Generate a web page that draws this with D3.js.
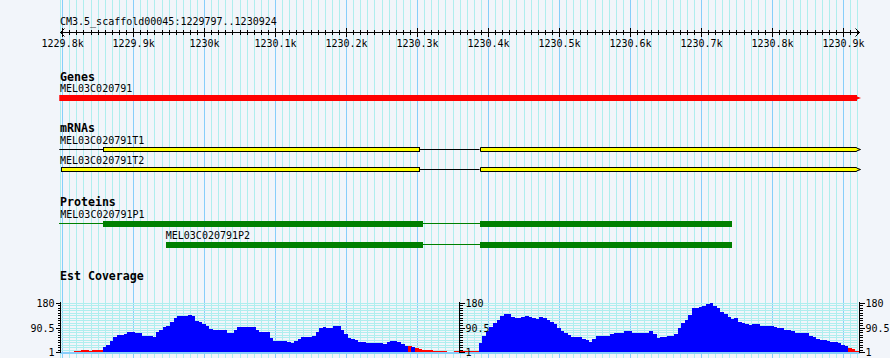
<!DOCTYPE html>
<html>
<head>
<meta charset="utf-8">
<script src="https://cdn.jsdelivr.net/npm/d3@7"></script>
<style>
  body { margin: 0; background: #f2f5fa; }
  svg text { font-family: "DejaVu Sans Mono", monospace; font-size: 10px; fill: #000; }
  svg text.track { font-weight: bold; font-size: 11.6px; }
</style>
</head>
<body>
<div id="chart"></div>
<script>
// region shown
var segmentName = "CM3.5_scaffold00045";
var viewStart = 1229797, viewEnd = 1230924;

// ruler
var majorTicks = [1229800, 1229900, 1230000, 1230100, 1230200, 1230300, 1230400, 1230500, 1230600, 1230700, 1230800, 1230900];
var majorLabels = ["1229.8k", "1229.9k", "1230k", "1230.1k", "1230.2k", "1230.3k", "1230.4k", "1230.5k", "1230.6k", "1230.7k", "1230.8k", "1230.9k"];

var trackNames = ["Genes", "mRNAs", "Proteins", "Est Coverage"];

// gene
var geneName = "MEL03C020791";
var geneSpan = [1229796, 1230924];

// transcripts
var mrnaNames = ["MEL03C020791T1", "MEL03C020791T2"];
var mrnaStarts = [1229796, 1229798];
var mrnaExons = [
  [[1229858, 1230303], [1230388, 1230924]],
  [[1229798, 1230303], [1230388, 1230924]]
];

// proteins
var proteinNames = ["MEL03C020791P1", "MEL03C020791P2"];
var proteinStarts = [1229796, 1229946];
var proteinCds = [
  [[1229858, 1230308], [1230388, 1230744]],
  [[1229946, 1230308], [1230388, 1230744]]
];

// EST coverage, 5 bp bins from viewStart
var coverageBin = 5;
var coverage = [
  0, 0, 0, 0, 5, 5, 8, 8, 6, 9,
  9, 9, 19, 27, 41, 56, 63, 63, 66, 73,
  73, 72, 72, 60, 59, 59, 54, 75, 81, 93,
  96, 112, 124, 132, 134, 134, 136, 134, 114, 110,
  105, 96, 85, 81, 81, 81, 80, 69, 69, 81,
  92, 93, 93, 93, 92, 81, 75, 75, 73, 52,
  41, 41, 41, 41, 39, 34, 41, 48, 55, 55,
  57, 60, 73, 87, 92, 90, 89, 95, 95, 81,
  66, 53, 48, 44, 39, 37, 35, 35, 35, 35,
  33, 31, 39, 41, 41, 36, 30, 24, 23, 20,
  17, 11, 10, 8, 7, 5, 4, 4, 4, 0,
  0, 5, 5, 5, 5, 5, 5, 5, 34, 60,
  77, 91, 108, 118, 131, 139, 138, 129, 126, 124,
  130, 134, 130, 126, 122, 130, 126, 119, 111, 102,
  90, 78, 71, 63, 57, 57, 57, 48, 45, 39,
  48, 58, 59, 59, 59, 65, 70, 72, 72, 76,
  78, 72, 72, 72, 70, 70, 78, 67, 51, 54,
  57, 61, 61, 67, 89, 106, 118, 137, 161, 163,
  165, 169, 175, 179, 170, 161, 147, 138, 129, 120,
  124, 112, 107, 102, 101, 102, 102, 97, 97, 97,
  95, 91, 88, 88, 81, 81, 76, 70, 69, 69,
  69, 61, 54, 48, 45, 45, 42, 39, 39, 33,
  25, 23, 15, 11, 5
];
// bins drawn in red
var lowRanges = [[1229817, 1229857], [1230287, 1230292], [1230297, 1230387], [1230907, 1230924]];
var coverageTicks = [1, 90.5, 180];
var coverageLabels = ["1", "90.5", "180"];
var coverageAxes = [1229797, 1230360, 1230924];

var width = 890, height = 358;

var svg = d3.select("#chart")
  .append("svg")
    .attr("width", width)
    .attr("height", height)
    .style("display", "block");

svg.append("rect")
  .attr("width", width).attr("height", height)
  .attr("fill", "#f2f5fa");

var x = d3.scaleLinear().domain([viewStart, viewEnd]).range([60, 860]);
function px(bp) { return Math.round(x(bp)); }

// vertical grid, every 10 bp
var gridBp = d3.range(1229800, viewEnd, 10);
svg.append("line")
  .attr("x1", 60.5).attr("x2", 60.5).attr("y1", 0).attr("y2", height)
  .attr("stroke", "#afeeee");
svg.append("g")
  .attr("shape-rendering", "crispEdges")
  .selectAll("line")
  .data(gridBp)
  .enter().append("line")
    .attr("x1", function(d) { return px(d) + 0.5; })
    .attr("x2", function(d) { return px(d) + 0.5; })
    .attr("y1", 0).attr("y2", height)
    .attr("stroke", function(d) { return d % 100 == 0 ? "#87cefa" : "#afeeee"; });

// ruler
svg.append("text")
  .attr("x", 60).attr("y", 25)
  .text(segmentName + ":" + viewStart + ".." + viewEnd);

var ruler = svg.append("g").attr("shape-rendering", "crispEdges");
ruler.append("line")
  .attr("x1", 60).attr("x2", 860).attr("y1", 32.5).attr("y2", 32.5)
  .attr("stroke", "#000");
ruler.selectAll(".minor")
  .data(gridBp.filter(function(d) { return d % 100 != 0; }))
  .enter().append("line")
    .attr("x1", function(d) { return px(d) + 0.5; })
    .attr("x2", function(d) { return px(d) + 0.5; })
    .attr("y1", 30).attr("y2", 35)
    .attr("stroke", "#000");
ruler.selectAll(".major")
  .data(majorTicks)
  .enter().append("line")
    .attr("x1", function(d) { return px(d) + 0.5; })
    .attr("x2", function(d) { return px(d) + 0.5; })
    .attr("y1", 28).attr("y2", 37)
    .attr("stroke", "#000");
svg.append("path")
  .attr("d", "M64.5,28.5 L60.5,32.5 L64.5,36.5 M855.5,28.5 L859.5,32.5 L855.5,36.5")
  .attr("fill", "none").attr("stroke", "#000");
svg.selectAll(".tickLabel")
  .data(majorTicks)
  .enter().append("text")
    .attr("x", function(d) { return x(d) + 0.5; })
    .attr("y", 46.5)
    .attr("text-anchor", "middle")
    .text(function(d, i) { return majorLabels[i]; });

// track titles
var trackY = [80.5, 132, 206, 280];
trackNames.forEach(function(name, i) {
  svg.append("text").attr("class", "track")
    .attr("x", 60).attr("y", trackY[i]).text(name);
});

// a bar that ends in a small arrow at its right end
function arrowBar(g, x1, x2, top, h, fill, stroke) {
  var mid = top + h / 2;
  var pts = [[x1, top], [x2 - 3, top], [x2 - 3, mid - 1.5], [x2 + 1, mid], [x2 - 3, mid + 1.5], [x2 - 3, top + h], [x1, top + h]];
  g.append("polygon")
    .attr("points", pts.map(function(p) { return p.join(","); }).join(" "))
    .attr("fill", fill)
    .attr("stroke", stroke || "none");
}

// gene
svg.append("text").attr("x", 60).attr("y", 92).text(geneName);
arrowBar(svg, x(geneSpan[0]), x(geneSpan[1]), 95, 6, "#ff0000");

// mRNAs
mrnaNames.forEach(function(name, i) {
  var top = 147.5 + i * 20;
  svg.append("text").attr("x", 60).attr("y", 144 + i * 20).text(name);
  var ex = mrnaExons[i];
  var g = svg.append("g");
  g.append("line")
    .attr("x1", x(mrnaStarts[i])).attr("x2", x(ex[0][0]))
    .attr("y1", top + 2).attr("y2", top + 2)
    .attr("stroke", "#000");
  for (var k = 1; k < ex.length; k++) {
    g.append("line")
      .attr("x1", x(ex[k - 1][1])).attr("x2", x(ex[k][0]))
      .attr("y1", top + 2).attr("y2", top + 2)
      .attr("stroke", "#000");
  }
  ex.forEach(function(e, k) {
    if (k == ex.length - 1) {
      arrowBar(g, Math.round(x(e[0])) + 0.5, Math.round(x(e[1])) - 0.5, top, 4, "#ffff00", "#000");
    } else {
      g.append("rect")
        .attr("x", Math.round(x(e[0])) + 0.5).attr("y", top)
        .attr("width", Math.round(x(e[1]) - x(e[0]))).attr("height", 4)
        .attr("fill", "#ffff00").attr("stroke", "#000");
    }
  });
});

// proteins
proteinNames.forEach(function(name, i) {
  var top = 221 + i * 21;
  var cds = proteinCds[i];
  svg.append("text").attr("x", x(proteinStarts[i]) + (i == 0 ? 1 : 0)).attr("y", top - 3).text(name);
  var g = svg.append("g").attr("shape-rendering", "crispEdges");
  if (proteinStarts[i] < cds[0][0]) {
    g.append("line")
      .attr("x1", x(proteinStarts[i])).attr("x2", x(cds[0][0]))
      .attr("y1", top + 2.5).attr("y2", top + 2.5)
      .attr("stroke", "#008000");
  }
  for (var k = 1; k < cds.length; k++) {
    g.append("line")
      .attr("x1", x(cds[k - 1][1])).attr("x2", x(cds[k][0]))
      .attr("y1", top + 2.5).attr("y2", top + 2.5)
      .attr("stroke", "#008000");
  }
  g.selectAll("rect")
    .data(cds)
    .enter().append("rect")
      .attr("x", function(d) { return x(d[0]); })
      .attr("width", function(d) { return x(d[1]) - x(d[0]); })
      .attr("y", top).attr("height", 6)
      .attr("fill", "#008000");
});

// EST coverage
var y = d3.scaleLinear().domain([1, 180]).range([352, 303]);
var cov = svg.append("g").attr("shape-rendering", "crispEdges");

var hTicks = d3.range(0, 21).map(function(k) { return 1 + k * 179 / 20; });
cov.selectAll(".hgrid")
  .data(hTicks)
  .enter().append("line")
    .attr("x1", 60).attr("x2", 858)
    .attr("y1", function(d) { return Math.round(y(d)) + 0.5; })
    .attr("y2", function(d) { return Math.round(y(d)) + 0.5; })
    .attr("stroke", "#afeeee");

function isLow(bp) {
  return lowRanges.some(function(r) { return bp >= r[0] && bp < r[1]; });
}

// one bar per bin, red where the bin falls in a low range
var bins = coverage.map(function(v, i) {
  return {start: viewStart + i * coverageBin, value: v};
}).filter(function(d) { return d.value > 1; });

cov.selectAll(".bin")
  .data(bins)
  .enter().append("rect")
    .attr("x", function(d) { return x(d.start); })
    .attr("width", function(d) { return x(d.start + coverageBin) - x(d.start) + 0.3; })
    .attr("y", function(d) { return y(d.value); })
    .attr("height", function(d) { return 352 - y(d.value); })
    .attr("fill", function(d) { return isLow(d.start) ? "#ff0000" : "#0000ff"; });

cov.append("line")
  .attr("x1", 60).attr("x2", 860).attr("y1", 352.5).attr("y2", 352.5)
  .attr("stroke", "#87cefa").attr("stroke-width", 2);

// coverage scales: left one has ticks and labels on the left, others on the right
coverageAxes.forEach(function(bp, i) {
  var ax = Math.round(x(bp)) + (i == 0 ? 0.5 : -0.5);
  var dir = i == 0 ? -1 : 1;
  var g = svg.append("g").attr("shape-rendering", "crispEdges");
  g.append("line")
    .attr("x1", ax).attr("x2", ax).attr("y1", 302).attr("y2", 353)
    .attr("stroke", "#000");
  g.selectAll(".minor")
    .data(hTicks)
    .enter().append("line")
      .attr("x1", ax).attr("x2", ax + dir * 3)
      .attr("y1", function(d) { return Math.round(y(d)) + 0.5; })
      .attr("y2", function(d) { return Math.round(y(d)) + 0.5; })
      .attr("stroke", "#000");
  g.selectAll(".major")
    .data(coverageTicks)
    .enter().append("line")
      .attr("x1", ax).attr("x2", ax + dir * 5)
      .attr("y1", function(d) { return Math.round(y(d)) + 0.5; })
      .attr("y2", function(d) { return Math.round(y(d)) + 0.5; })
      .attr("stroke", "#000");
  g.selectAll("text")
    .data(coverageTicks)
    .enter().append("text")
      .attr("x", ax + dir * 6)
      .attr("y", function(d) { return y(d) + 4; })
      .attr("text-anchor", i == 0 ? "end" : "start")
      .text(function(d, k) { return coverageLabels[k]; });
});
</script>
</body>
</html>
